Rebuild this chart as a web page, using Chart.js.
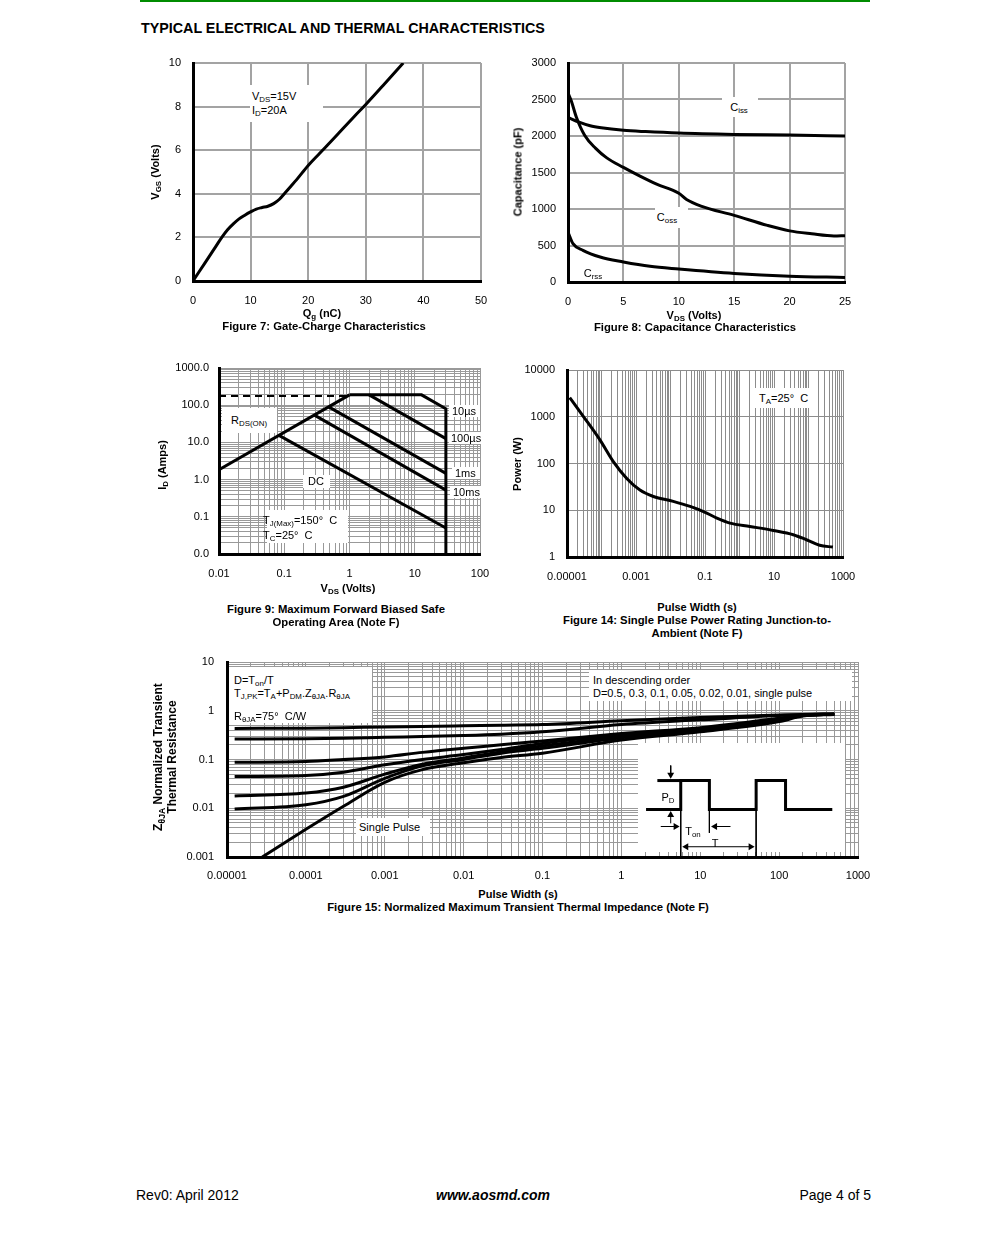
<!DOCTYPE html>
<html>
<head>
<meta charset="utf-8">
<script src="https://cdn.jsdelivr.net/npm/chart.js@4.4.1/dist/chart.umd.min.js"></script>
<style>
body { margin: 0; background: #fff; }
#page { position: relative; width: 991px; height: 1248px; overflow: hidden; font-family: 'Liberation Sans', Arial, sans-serif; color: #000; background: #fff; }
canvas { position: absolute; }
.t { position: absolute; white-space: nowrap; font-size: 11px; line-height: 1; }
.c { transform: translate(-50%, -50%); }
.l { transform: translate(0, -50%); }
.r { transform: translate(-100%, -50%); }
.b { font-weight: bold; }
.v { transform: translate(-50%, -50%) rotate(-90deg); text-align: center; }
.box { position: absolute; background: #fff; }
sub { font-size: 0.72em; vertical-align: -0.3em; line-height: 0; }
</style>
</head>
<body>
<div id="page">
  <div style="position:absolute;left:140px;top:0;width:730px;height:2px;background:#008c00"></div>
  <div class="t l b" style="left:141px;top:28px;font-size:14.3px">TYPICAL ELECTRICAL AND THERMAL CHARACTERISTICS</div>

  <div id="plots"></div>

  <!-- Figure 7 -->
  <div class="box" style="left:250px;top:85px;width:73px;height:37px"></div>
  <div class="t l" style="left:252px;top:96px">V<sub>DS</sub>=15V</div>
  <div class="t l" style="left:252px;top:110px">I<sub>D</sub>=20A</div>
  <div class="t v b" style="left:155px;top:172px">V<sub>GS</sub> (Volts)</div>
  <div class="t c b" style="left:322px;top:313px">Q<sub>g</sub> (nC)</div>
  <div class="t c b" style="left:324px;top:327px;font-size:11.3px">Figure 7: Gate-Charge Characteristics</div>

  <!-- Figure 8 -->
  <div class="box" style="left:722px;top:97px;width:36px;height:20px"></div>
  <div class="t c" style="left:739px;top:107px">C<sub>iss</sub></div>
  <div class="box" style="left:655px;top:207px;width:33px;height:21px"></div>
  <div class="t c" style="left:667px;top:217px">C<sub>oss</sub></div>
  <div class="t c" style="left:593px;top:273px">C<sub>rss</sub></div>
  <div class="t v b" style="left:518px;top:172px">Capacitance (pF)</div>
  <div class="t c b" style="left:694px;top:315px">V<sub>DS</sub> (Volts)</div>
  <div class="t c b" style="left:695px;top:328px;font-size:11.3px">Figure 8: Capacitance Characteristics</div>

  <!-- Figure 9 -->
  <div class="box" style="left:222px;top:408px;width:55px;height:25px"></div>
  <div class="t l" style="left:231px;top:420px">R<sub>DS(ON)</sub></div>
  <div class="box" style="left:449px;top:405px;width:31px;height:12px"></div>
  <div class="t l" style="left:452px;top:411px">10µs</div>
  <div class="box" style="left:449px;top:432px;width:33px;height:12px"></div>
  <div class="t l" style="left:451px;top:438px">100µs</div>
  <div class="box" style="left:452px;top:467px;width:28px;height:12px"></div>
  <div class="t l" style="left:455px;top:473px">1ms</div>
  <div class="box" style="left:450px;top:486px;width:31px;height:12px"></div>
  <div class="t l" style="left:453px;top:492px">10ms</div>
  <div class="box" style="left:303px;top:475px;width:27px;height:13px"></div>
  <div class="t c" style="left:316px;top:481px">DC</div>
  <div class="box" style="left:267px;top:510px;width:81px;height:33px"></div>
  <div class="t l" style="left:263px;top:520px">T<sub>J(Max)</sub>=150°&nbsp; C</div>
  <div class="t l" style="left:263px;top:535px">T<sub>C</sub>=25°&nbsp; C</div>
  <div class="t v b" style="left:162px;top:465px">I<sub>D</sub> (Amps)</div>
  <div class="t c b" style="left:348px;top:588px">V<sub>DS</sub> (Volts)</div>
  <div class="t c b" style="left:336px;top:610px;font-size:11.3px">Figure 9: Maximum Forward Biased Safe</div>
  <div class="t c b" style="left:336px;top:623px;font-size:11.3px">Operating Area (Note F)</div>

  <!-- Figure 14 -->
  <div class="box" style="left:755px;top:388px;width:57px;height:20px"></div>
  <div class="t l" style="left:759px;top:398px">T<sub>A</sub>=25°&nbsp; C</div>
  <div class="t v b" style="left:517px;top:464px">Power (W)</div>
  <div class="t c b" style="left:697px;top:607px">Pulse Width (s)</div>
  <div class="t c b" style="left:697px;top:621px;font-size:11.3px">Figure 14: Single Pulse Power Rating Junction-to-</div>
  <div class="t c b" style="left:697px;top:634px;font-size:11.3px">Ambient (Note F)</div>

  <!-- Figure 15 -->
  <div class="box" style="left:229px;top:667px;width:143px;height:56px"></div>
  <div class="t l" style="left:234px;top:680px">D=T<sub>on</sub>/T</div>
  <div class="t l" style="left:234px;top:693px">T<sub>J,PK</sub>=T<sub>A</sub>+P<sub>DM</sub>.Z<sub>θJA</sub>.R<sub>θJA</sub></div>
  <div class="t l" style="left:234px;top:716px">R<sub>θJA</sub>=75°&nbsp; C/W</div>
  <div class="box" style="left:589px;top:670px;width:263px;height:31px"></div>
  <div class="t l" style="left:593px;top:680px">In descending order</div>
  <div class="t l" style="left:593px;top:693px">D=0.5, 0.3, 0.1, 0.05, 0.02, 0.01, single pulse</div>
  <div class="box" style="left:356px;top:818px;width:74px;height:18px"></div>
  <div class="t l" style="left:359px;top:827px">Single Pulse</div>
  <div class="box" style="left:638px;top:743px;width:207px;height:109px"></div>
  <div id="inset"></div>
  <div class="t c" style="left:668px;top:797px">P<sub>D</sub></div>
  <div class="t c" style="left:693px;top:831px">T<sub>on</sub></div>
  <div class="t c" style="left:715px;top:843px">T</div>
  <div class="t v b" style="left:165px;top:757px;font-size:12px;line-height:14px">Z<sub>θJA</sub> Normalized Transient<br>Thermal Resistance</div>
  <div class="t c b" style="left:518px;top:894px">Pulse Width (s)</div>
  <div class="t c b" style="left:518px;top:908px;font-size:11.3px">Figure 15: Normalized Maximum Transient Thermal Impedance (Note F)</div>

  <div class="t l" style="left:136px;top:1195px;font-size:14px">Rev0: April 2012</div>
  <div class="t c b" style="left:493px;top:1195px;font-size:14px;font-style:italic">www.aosmd.com</div>
  <div class="t r" style="left:871px;top:1195px;font-size:14px">Page 4 of 5</div>
</div>

<script>
// Figure 7: gate charge
const qgCharge = [0, 2, 4, 5, 6, 7, 8, 9, 10, 11, 12, 13, 14, 15, 16, 17, 18, 20, 22, 25, 28, 30, 33, 36.5];
const qgVgs = [0, 0.8, 1.6, 2.0, 2.35, 2.62, 2.85, 3.02, 3.17, 3.3, 3.37, 3.43, 3.55, 3.75, 4.05, 4.35, 4.65, 5.3, 5.86, 6.7, 7.55, 8.1, 8.97, 10];
const fig7XTicks = [0, 10, 20, 30, 40, 50];
const fig7YTicks = [0, 2, 4, 6, 8, 10];

// Figure 8: capacitance
const cissVds = [0, 1, 2, 3, 5, 7, 10, 15, 20, 25];
const cissPf = [2255, 2190, 2140, 2112, 2078, 2060, 2040, 2022, 2012, 2000];
const cossVds = [0, 0.3, 0.75, 1.5, 2.5, 3.5, 5, 6.5, 8, 10, 10.7, 12, 15, 18, 20, 22, 24, 25];
const cossPf = [2590, 2480, 2260, 2010, 1830, 1700, 1570, 1450, 1340, 1215, 1130, 1040, 913, 775, 700, 660, 630, 635];
const crssVds = [0, 0.45, 1.35, 2.9, 5, 7.4, 10, 15, 20, 25];
const crssPf = [685, 525, 434, 342, 275, 215, 178, 118, 80, 62];
const fig8XTicks = [0, 5, 10, 15, 20, 25];
const fig8YTicks = [0, 500, 1000, 1500, 2000, 2500, 3000];

// Figure 9: safe operating area
const rdsVds = [0.01, 1];
const rdsId = [1.85, 190];
const limitVds = [0.01, 1];
const limitId = [178, 178];
const us10Vds = [1, 12.7, 30, 30];
const us10Id = [190, 190, 80, 0.01];
const us100Vds = [2, 30];
const us100Id = [190, 12.6];
const ms1Vds = [0.48, 30];
const ms1Id = [90, 1.47];
const ms10Vds = [0.29, 30];
const ms10Id = [54, 0.52];
const dcVds = [0.083, 30];
const dcId = [15.5, 0.05];
const fig9XLabelValues = [0.01, 0.1, 1, 10, 100];
const fig9XLabels = ['0.01', '0.1', '1', '10', '100'];
const fig9YLabelValues = [0.01, 0.1, 1, 10, 100, 1000];
const fig9YLabels = ['0.0', '0.1', '1.0', '10.0', '100.0', '1000.0'];

// Figure 14: single pulse power
const pulseWidth = [1.2e-5, 3e-5, 9e-5, 2.2e-4, 5.4e-4, 1.3e-3, 3.2e-3, 0.012, 0.037, 0.09, 0.22, 0.53, 2, 9.5, 36, 87, 210, 510];
const pulsePower = [2570, 1010, 320, 110, 48, 27, 19.7, 15.5, 12.1, 9.4, 6.8, 5.3, 4.5, 3.7, 3.0, 2.34, 1.78, 1.63];
const fig14XLabelValues = [1e-5, 1e-3, 0.1, 10, 1000];
const fig14XLabels = ['0.00001', '0.001', '0.1', '10', '1000'];
const fig14YTicks = [1, 10, 100, 1000, 10000];
const fig14YLabels = ['1', '10', '100', '1000', '10000'];

// Figure 15: transient thermal impedance
const zthTime = [1.25e-5, 1e-4, 3e-4, 1e-3, 3e-3, 1e-2, 3e-2, 0.1, 1, 10, 100, 200, 500];
const zthD50 = [0.434, 0.44, 0.45, 0.465, 0.475, 0.49, 0.505, 0.52, 0.62, 0.73, 0.82, 0.84, 0.86];
const zthD30 = [0.262, 0.266, 0.272, 0.285, 0.296, 0.31, 0.33, 0.37, 0.52, 0.65, 0.8, 0.83, 0.85];
const zthD10 = [0.0877, 0.091, 0.1, 0.113, 0.14, 0.17, 0.2, 0.24, 0.34, 0.45, 0.7, 0.82, 0.85];
const zthD05 = [0.0446, 0.047, 0.055, 0.078, 0.1, 0.126, 0.16, 0.214, 0.32, 0.43, 0.68, 0.81, 0.85];
const zthD02 = [0.0179, 0.0205, 0.027, 0.05, 0.08, 0.108, 0.145, 0.189, 0.3, 0.41, 0.66, 0.8, 0.85];
const zthD01 = [0.0096, 0.0118, 0.0175, 0.041, 0.074, 0.1, 0.135, 0.17, 0.28, 0.4, 0.64, 0.8, 0.85];
const singleTime = [2.8e-5, 1e-4, 3e-4, 1e-3, 3e-3, 1e-2, 3e-2, 0.1, 1, 10, 100, 200, 500];
const singleZth = [0.001, 0.0037, 0.011, 0.034, 0.062, 0.086, 0.11, 0.135, 0.25, 0.37, 0.6, 0.78, 0.84];
const fig15XLabelValues = [1e-5, 1e-4, 1e-3, 1e-2, 0.1, 1, 10, 100, 1000];
const fig15XLabels = ['0.00001', '0.0001', '0.001', '0.01', '0.1', '1', '10', '100', '1000'];
const fig15YLabelValues = [0.001, 0.01, 0.1, 1, 10];
const fig15YLabels = ['0.001', '0.01', '0.1', '1', '10'];

// inset pulse sketch (time in units where T = 10)
const waveTime = [-4.6, 0, 0, 3.8, 3.8, 10, 10, 13.9, 13.9, 20.1];
const waveLevel = [0, 0, 1, 1, 0, 0, 1, 1, 0, 0];
const peakRefTime = [-3.1, 0];
const peakRefLevel = [1, 1];

Chart.defaults.font.family = "'Liberation Sans', Arial, sans-serif";
Chart.defaults.font.size = 11;
Chart.defaults.color = '#000';
Chart.defaults.animation = false;
Chart.defaults.plugins.legend.display = false;
Chart.defaults.plugins.tooltip.enabled = false;

function pts(xs, ys) {
    return xs.map((x, i) => ({x: x, y: ys[i]}));
}

function logGrid(minExp, maxExp) {
    const out = [];
    for (let e = minExp; e < maxExp; e++) {
        for (let m = 1; m < 10; m++) out.push(Number(m + 'e' + e));
    }
    out.push(Number('1e' + maxExp));
    return out;
}

function labelFrom(values, labels) {
    return function (v) {
        for (let i = 0; i < values.length; i++) {
            if (Math.abs(Math.log10(v) - Math.log10(values[i])) < 1e-6) return labels[i];
        }
        return '';
    };
}

function makeCanvas(holder, left, top, width, height) {
    const cv = document.createElement('canvas');
    cv.width = width;
    cv.height = height;
    cv.style.left = left + 'px';
    cv.style.top = top + 'px';
    cv.style.width = width + 'px';
    cv.style.height = height + 'px';
    document.getElementById(holder).appendChild(cv);
    return cv;
}

function scale(type, min, max, tickValues, labelFn, pad, gridColor, gridWidth) {
    return {
        type: type,
        min: min,
        max: max,
        afterBuildTicks: s => { s.ticks = tickValues.map(v => ({value: v})); },
        ticks: {callback: labelFn, autoSkip: false, maxRotation: 0, minRotation: 0, padding: pad},
        grid: {color: gridColor, lineWidth: gridWidth, drawTicks: false},
        border: {color: '#000', width: 3, z: 1}
    };
}

function curve(points, smooth, extra) {
    return Object.assign({
        data: points,
        showLine: true,
        borderColor: '#000',
        borderWidth: 3,
        pointRadius: 0,
        cubicInterpolationMode: smooth ? 'monotone' : 'default',
        tension: 0
    }, extra || {});
}

// plot rectangle on the page, plus margins for the tick labels
function plot(rect, xScale, yScale, datasets) {
    const m = {l: 50, t: 20, r: 30, b: 30};
    const cv = makeCanvas('plots', rect[0] - m.l, rect[1] - m.t,
        rect[2] - rect[0] + m.l + m.r, rect[3] - rect[1] + m.t + m.b);
    xScale.afterFit = s => { s.height = m.b; };
    yScale.afterFit = s => { s.width = m.l; };
    return new Chart(cv, {
        type: 'scatter',
        data: {datasets: datasets},
        options: {
            responsive: false,
            layout: {padding: {top: m.t, right: m.r, left: 0, bottom: 0}},
            scales: {x: xScale, y: yScale}
        }
    });
}

const plain = v => String(v);

// Figure 7
plot([193, 63, 481, 281],
    scale('linear', 0, 50, fig7XTicks, plain, 13, '#a3a3a3', 2),
    scale('linear', 0, 10, fig7YTicks, plain, 12, '#a3a3a3', 2),
    [curve(pts(qgCharge, qgVgs), true)]);

// Figure 8
plot([568, 63, 845, 282],
    scale('linear', 0, 25, fig8XTicks, plain, 13, '#a3a3a3', 2),
    scale('linear', 0, 3000, fig8YTicks, plain, 12, '#a3a3a3', 2),
    [curve(pts(cissVds, cissPf), true),
     curve(pts(cossVds, cossPf), true),
     curve(pts(crssVds, crssPf), true)]);

// Figure 9
plot([219, 368, 480, 554],
    scale('logarithmic', 0.01, 100, logGrid(-2, 2), labelFrom(fig9XLabelValues, fig9XLabels), 13, '#999', 1),
    scale('logarithmic', 0.01, 1000, logGrid(-2, 3), labelFrom(fig9YLabelValues, fig9YLabels), 10, '#999', 1),
    [curve(pts(limitVds, limitId), false, {borderWidth: 2, borderDash: [7, 5]}),
     curve(pts(rdsVds, rdsId), false),
     curve(pts(us10Vds, us10Id), false),
     curve(pts(us100Vds, us100Id), false),
     curve(pts(ms1Vds, ms1Id), false),
     curve(pts(ms10Vds, ms10Id), false),
     curve(pts(dcVds, dcId), false)]);

// Figure 14
plot([567, 370, 843, 557],
    scale('logarithmic', 1e-5, 1000, logGrid(-5, 3), labelFrom(fig14XLabelValues, fig14XLabels), 13, '#8c8c8c', 1),
    scale('logarithmic', 1, 10000, fig14YTicks, labelFrom(fig14YTicks, fig14YLabels), 12, '#8c8c8c', 1),
    [curve(pts(pulseWidth, pulsePower), true)]);

// Figure 15
plot([227, 662, 858, 857],
    scale('logarithmic', 1e-5, 1000, logGrid(-5, 3), labelFrom(fig15XLabelValues, fig15XLabels), 12, '#999', 1),
    scale('logarithmic', 0.001, 10, logGrid(-3, 1), labelFrom(fig15YLabelValues, fig15YLabels), 13, '#999', 1),
    [curve(pts(zthTime, zthD50), true),
     curve(pts(zthTime, zthD30), true),
     curve(pts(zthTime, zthD10), true),
     curve(pts(zthTime, zthD05), true),
     curve(pts(zthTime, zthD02), true),
     curve(pts(zthTime, zthD01), true),
     curve(pts(singleTime, singleZth), true)]);

// inset: pulse train sketch with arrows
function arrow(xs, ys, heads, rotations) {
    return {
        data: pts(xs, ys),
        showLine: true,
        borderColor: '#000',
        borderWidth: 1,
        pointRadius: heads,
        pointStyle: 'triangle',
        pointRotation: rotations,
        pointBackgroundColor: '#000',
        pointBorderWidth: 0
    };
}
const insetCanvas = makeCanvas('inset', 637, 743, 210, 118);
new Chart(insetCanvas, {
    type: 'scatter',
    data: {
        datasets: [
            curve(pts(waveTime, waveLevel), false),
            curve(pts(peakRefTime, peakRefLevel), false),
            curve(pts([0, 0], [0, -1.61]), false, {borderWidth: 1}),
            curve(pts([3.8, 3.8], [0, -0.81]), false, {borderWidth: 1}),
            curve(pts([10, 10], [0, -1.61]), false, {borderWidth: 1}),
            arrow([-1.33, -1.33], [1.52, 1.2], [0, 4], [0, 180]),
            arrow([-1.33, -1.33], [-0.48, -0.19], [0, 4], [0, 0]),
            arrow([-2.65, -0.68], [-0.59, -0.59], [0, 4], [0, 90]),
            arrow([6.6, 4.55], [-0.59, -0.59], [0, 4], [0, 270]),
            arrow([0.73, 9.27], [-1.29, -1.29], [4, 4], [270, 90])
        ]
    },
    options: {
        responsive: false,
        layout: {padding: 0},
        scales: {
            x: {type: 'linear', display: false, min: -5.27, max: 21.52},
            y: {type: 'linear', display: false, min: -1.645, max: 2.161}
        }
    }
});
</script>
</body>
</html>
